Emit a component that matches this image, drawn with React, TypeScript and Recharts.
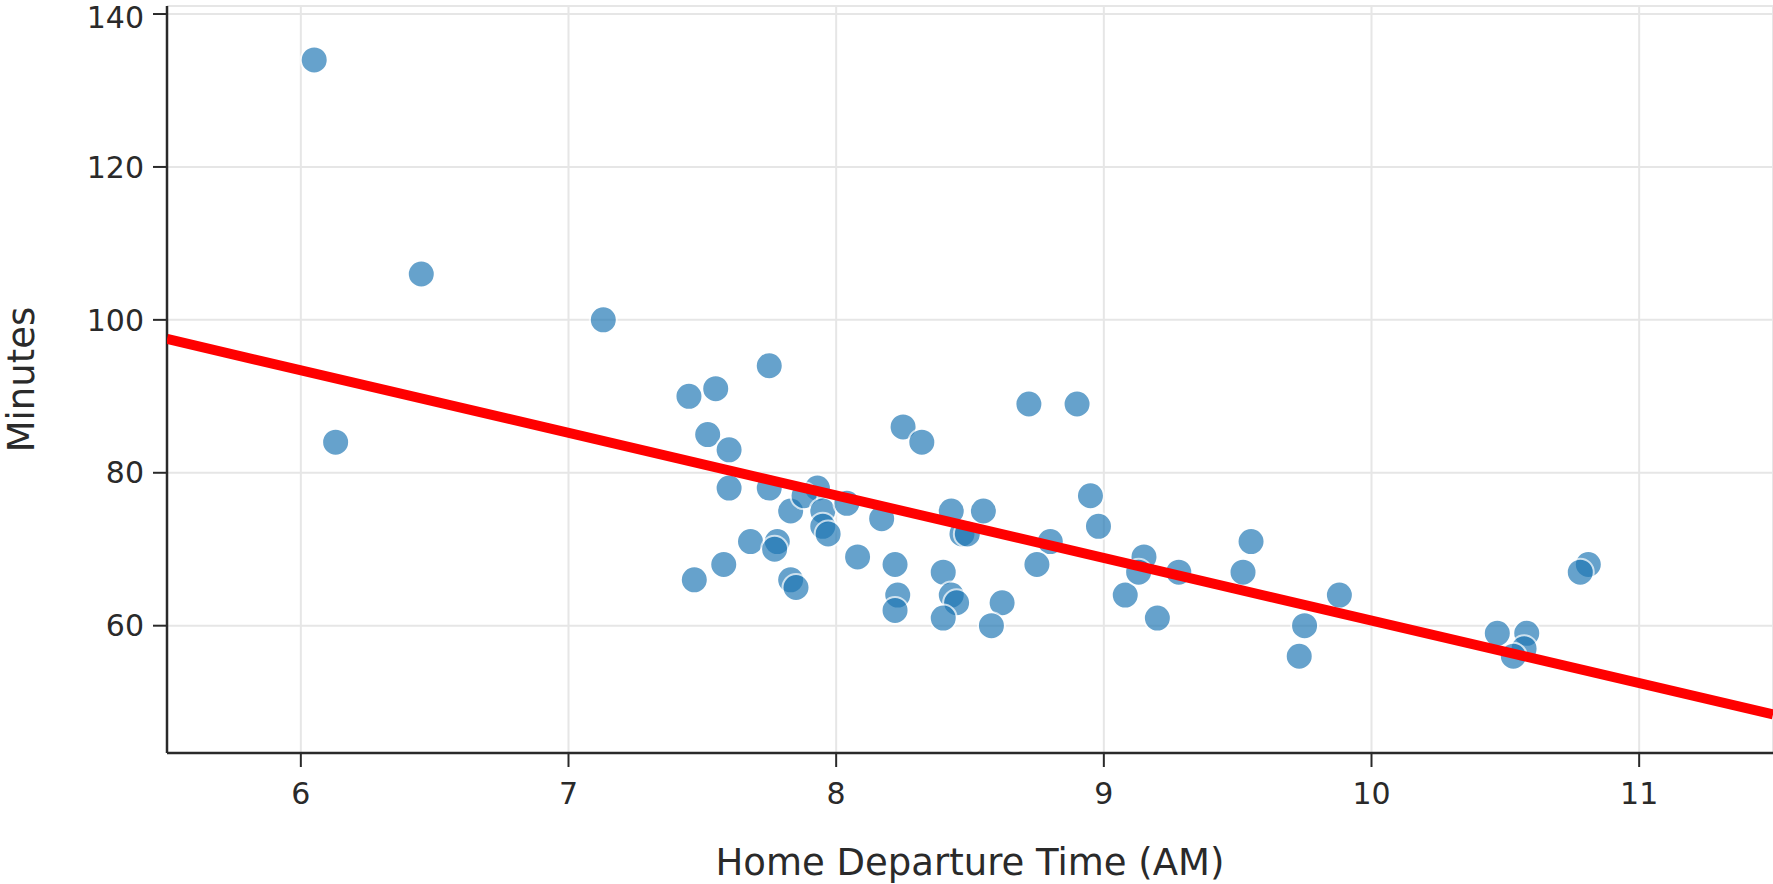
// Commute minutes vs. home departure time, with linear trend line
import {
  ScatterChart,
  Scatter,
  XAxis,
  YAxis,
  CartesianGrid,
  Label,
} from "recharts";

const departure = [
  6.05, 6.13, 6.45, 7.13, 7.45, 7.55, 7.75, 7.52, 7.6, 7.6, 7.75, 7.83, 7.93, 7.88, 7.95, 8.04,
  7.95, 7.97, 7.68, 7.78, 7.77, 7.58, 7.47, 7.83, 7.85, 8.08, 8.17, 8.25, 8.32, 8.22, 8.23, 8.22,
  8.4, 8.43, 8.47, 8.49, 8.43, 8.45, 8.4, 8.55, 8.62, 8.58, 8.72, 8.9, 8.95, 8.98, 8.8, 8.75,
  9.08, 9.15, 9.13, 9.28, 9.2, 9.55, 9.52, 9.88, 9.75, 9.73, 10.47, 10.58, 10.57, 10.53, 10.81, 10.78,
];
const minutes = [
  134, 84, 106, 100, 90, 91, 94, 85, 83, 78, 78, 75, 78, 77, 75, 76,
  73, 72, 71, 71, 70, 68, 66, 66, 65, 69, 74, 86, 84, 68, 64, 62,
  67, 75, 72, 72, 64, 63, 61, 75, 63, 60, 89, 89, 77, 73, 71, 68,
  64, 69, 67, 67, 61, 71, 67, 64, 60, 56, 59, 59, 57, 56, 68, 67,
];

// fitted trend line end points
const trendX = [5.5, 11.5];
const trendY = [97.5, 48.4];

const xTicks = [6, 7, 8, 9, 10, 11];
const yTicks = [60, 80, 100, 120, 140];

const points = departure.map((x, i) => ({ x, y: minutes[i] }));
const trend = trendX.map((x, i) => ({ x, y: trendY[i] }));

const FONT = "'DejaVu Sans', Verdana, sans-serif";
const TEXT = "#2a2a2a";

function Marker(props: { cx?: number; cy?: number }) {
  if (props.cx == null || props.cy == null) return <g />;
  return (
    <circle
      cx={props.cx}
      cy={props.cy}
      r={13.5}
      fill="#1f77b4"
      stroke="#ffffff"
      strokeWidth={2}
      opacity={0.68}
    />
  );
}

export default function App() {
  return (
    <div style={{ position: "fixed", left: 0, top: 0, background: "#fff" }}>
      <ScatterChart
        width={1773}
        height={884}
        margin={{ top: 6, right: 0, left: 0, bottom: 0 }}
        style={{ fontFamily: FONT }}
      >
        <CartesianGrid stroke="#e6e6e6" strokeWidth={2} />
        <XAxis
          type="number"
          dataKey="x"
          domain={[5.5, 11.5]}
          allowDataOverflow
          ticks={xTicks}
          height={131}
          tickSize={14}
          tickMargin={16}
          axisLine={{ stroke: "#2a2a2a", strokeWidth: 2.5 }}
          tickLine={{ stroke: "#2a2a2a", strokeWidth: 2 }}
          tick={{ fill: TEXT, fontSize: 30, fontFamily: FONT }}
        >
          <Label
            value="Home Departure Time (AM)"
            position="insideBottom"
            offset={9}
            style={{ fill: TEXT, fontSize: 37, fontFamily: FONT }}
          />
        </XAxis>
        <YAxis
          type="number"
          dataKey="y"
          domain={[43.35, 141.05]}
          allowDataOverflow
          ticks={yTicks}
          width={167}
          tickSize={14}
          tickMargin={9}
          axisLine={{ stroke: "#2a2a2a", strokeWidth: 2.5 }}
          tickLine={{ stroke: "#2a2a2a", strokeWidth: 2 }}
          tick={{ fill: TEXT, fontSize: 30, fontFamily: FONT }}
        >
          <Label
            value="Minutes"
            angle={-90}
            position="insideLeft"
            offset={21}
            style={{ fill: TEXT, fontSize: 37, fontFamily: FONT, textAnchor: "middle" }}
          />
        </YAxis>
        <Scatter data={points} shape={<Marker />} isAnimationActive={false} />
        <Scatter
          data={trend}
          line={{ stroke: "#ff0000", strokeWidth: 10 }}
          shape={() => <g />}
          isAnimationActive={false}
        />
      </ScatterChart>
    </div>
  );
}
